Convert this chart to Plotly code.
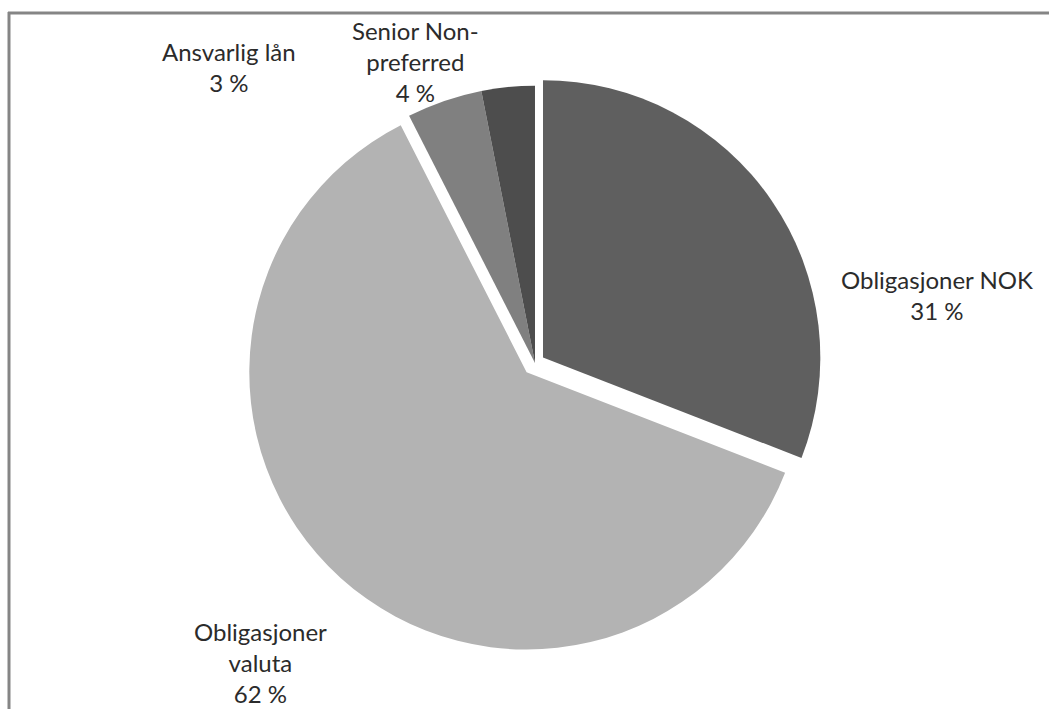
import plotly.graph_objects as go

# Data
categories = ["Obligasjoner NOK", "Obligasjoner valuta", "Senior Non-preferred", "Ansvarlig lån"]
label_text = ["Obligasjoner NOK", "Obligasjoner<br>valuta", "Senior Non-<br>preferred", "Ansvarlig lån"]
values = [30.9, 61.6, 4.4, 3.1]
colors = ["#5f5f5f", "#b3b3b3", "#808080", "#4d4d4d"]
pulls = [0.035, 0.045, 0.0, 0.0]

W, H = 1049, 709

fig = go.Figure()
fig.add_trace(go.Pie(
    labels=categories,
    values=values,
    sort=False,
    direction="clockwise",
    rotation=0,
    pull=pulls,
    marker=dict(colors=colors, line=dict(width=0)),
    textinfo="none",
    hoverinfo="label+percent",
    showlegend=False,
    domain=dict(x=[0.2337, 0.7863], y=[0.0793, 0.8968]),
))

# label placement (pixel centers in the page)
label_pos = [(937, 295), (260, 662), (415, 62), (229, 67)]
total = sum(values)
for txt, v, (px, py) in zip(label_text, values, label_pos):
    pct = round(v / total * 100)
    fig.add_annotation(
        x=px / W, y=1 - py / H, xref="paper", yref="paper",
        text=f"{txt}<br>{pct} %", showarrow=False,
        xanchor="center", yanchor="middle", align="center",
        font=dict(family="Lato", size=24, color="#2b2b2b"),
    )

# chart-area frame (top and left edges visible)
fig.add_shape(type="line", xref="paper", yref="paper",
              x0=8 / W, x1=1.0, y0=1 - 13 / H, y1=1 - 13 / H,
              line=dict(color="#858585", width=3))
fig.add_shape(type="line", xref="paper", yref="paper",
              x0=9 / W, x1=9 / W, y0=0, y1=1 - 12 / H,
              line=dict(color="#858585", width=3))

fig.update_layout(
    width=W, height=H,
    margin=dict(l=0, r=0, t=0, b=0),
    paper_bgcolor="white",
    plot_bgcolor="white",
)

fig.write_html(
    "out.html",
    config={"displayModeBar": False},
    post_script="document.body.style.margin='0';document.body.style.overflow='hidden';",
)
